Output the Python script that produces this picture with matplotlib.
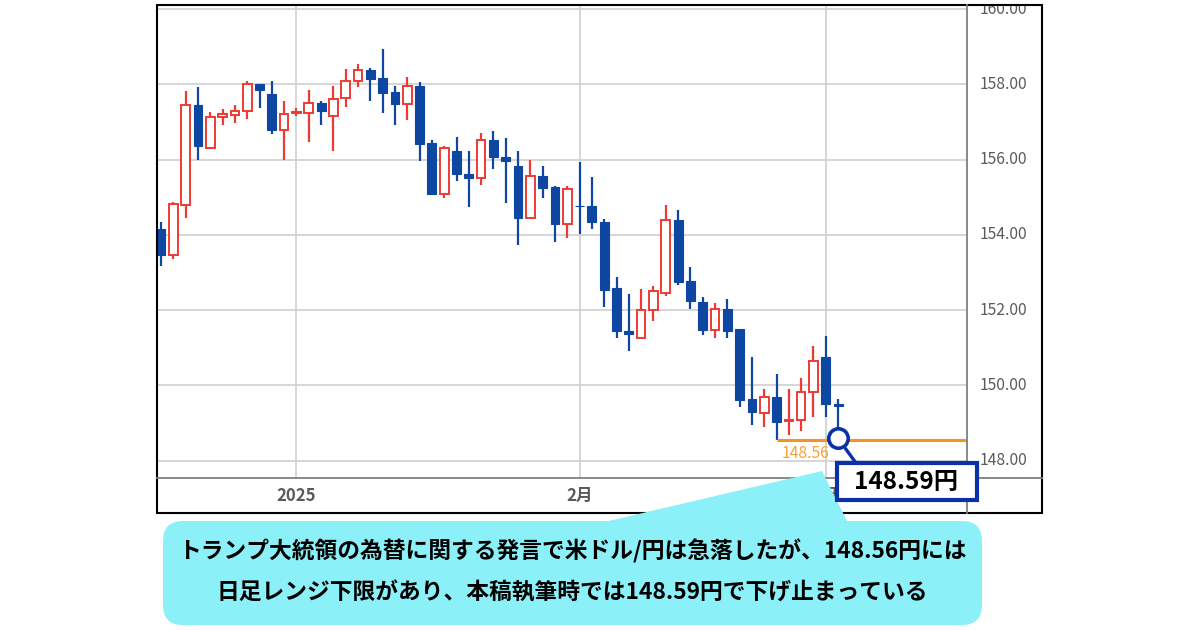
import matplotlib
matplotlib.use("Agg")
import matplotlib.pyplot as plt
from matplotlib.patches import Rectangle, FancyBboxPatch, Polygon
from matplotlib.lines import Line2D

plt.rcParams['font.family'] = ['Noto Sans CJK JP', 'DejaVu Sans']

# 米ドル/円 日足 (2024年12月中旬〜2025年3月初め)
opens = [154.15, 153.47, 154.80, 157.46, 156.31, 157.13, 157.20, 157.29, 158.00, 157.75,
         156.80, 157.24, 157.25, 157.51, 157.17, 157.64, 158.09, 158.39, 158.17, 157.79,
         157.47, 157.97, 156.45, 155.09, 156.22, 155.63, 155.51, 156.53, 156.08, 155.83,
         154.46, 155.56, 155.28, 154.29, 154.78, 154.77, 154.33, 152.58, 151.45, 151.26,
         152.00, 152.46, 154.40, 152.77, 152.22, 151.47, 152.04, 151.49, 149.63, 149.26,
         149.70, 149.05, 149.08, 149.82, 150.75, 149.51]
highs = [154.35, 154.87, 157.82, 157.93, 157.26, 157.35, 157.46, 158.08, 158.02, 158.08,
         157.55, 157.36, 157.86, 157.55, 157.97, 158.40, 158.55, 158.43, 158.93, 157.97,
         158.19, 158.06, 156.53, 156.37, 156.60, 156.22, 156.71, 156.75, 156.58, 156.24,
         156.00, 155.83, 155.29, 155.29, 155.95, 155.53, 154.43, 152.88, 152.43, 152.56,
         152.65, 154.79, 154.67, 153.15, 152.35, 152.20, 152.31, 151.50, 150.75, 149.90,
         150.31, 149.90, 150.20, 151.04, 151.31, 149.65]
lows = [153.17, 153.35, 154.46, 155.99, 156.29, 156.91, 156.98, 157.09, 157.36, 156.69,
        156.00, 157.17, 156.47, 156.91, 156.24, 157.41, 157.94, 157.57, 157.25, 156.91,
        157.06, 155.96, 155.08, 154.98, 155.42, 154.75, 155.33, 155.75, 154.84, 153.73,
        154.45, 154.99, 153.80, 153.91, 154.02, 154.17, 152.08, 151.25, 150.91, 151.25,
        151.71, 152.37, 152.67, 152.02, 151.33, 151.25, 151.26, 149.43, 148.95, 148.89,
        148.56, 148.69, 148.78, 149.15, 149.15, 148.59]
closes = [153.47, 154.82, 157.44, 156.36, 157.13, 157.22, 157.30, 158.00, 157.86, 156.79,
          157.22, 157.27, 157.51, 157.28, 157.62, 158.09, 158.37, 158.15, 157.76, 157.47,
          157.97, 156.42, 155.09, 156.31, 155.62, 155.52, 156.51, 156.07, 155.96, 154.46,
          155.56, 155.25, 154.29, 155.23, 154.76, 154.33, 152.54, 151.45, 151.37, 152.00,
          152.51, 154.40, 152.75, 152.24, 151.47, 152.04, 151.44, 149.61, 149.29, 149.70,
          149.04, 149.09, 149.83, 150.65, 149.51, 149.45]

month_pos = [11, 34, 54]
month_labels = ['2025', '2月', '3月']
y_ticks = [148, 150, 152, 154, 156, 158, 160]

range_low = 148.56
range_low_start = 50
now_idx = 55
now_price = 148.59

note_line1 = 'トランプ大統領の為替に関する発言で米ドル/円は急落したが、148.56円には'
note_line2 = '日足レンジ下限があり、本稿執筆時では148.59円で下げ止まっている'

RED = '#ee3a34'
BLUE = '#0d47a1'
NAVY = '#0a31a6'
GRAY = '#5a5a5a'

fig = plt.figure(figsize=(12, 6.3), dpi=100)
inch = fig.dpi_scale_trans


def p(x, y):
    # pixel (from top-left) -> inches
    return (x / 100, (630 - y) / 100)


ax = fig.add_axes([157 / 1200, 1 - 478 / 630, 810 / 1200, 473 / 630])
axy = fig.add_axes([967 / 1200, 1 - 478 / 630, 75 / 1200, 473 / 630], sharey=ax)

x_right = 65.47
ax.set_xlim(-0.33, x_right)
ax.set_ylim(147.54, 160.11)

# ローソク足
xs = list(range(len(opens)))
for i in xs:
    o, h, l, c = opens[i], highs[i], lows[i], closes[i]
    col = RED if c >= o else BLUE
    ax.vlines(i, l, h, color=col, lw=1.6, zorder=2)
    if c >= o:
        ax.bar(i, max(c - o, 0.02), bottom=o, width=0.7, facecolor='white',
               edgecolor=RED, linewidth=1.4, zorder=3)
    else:
        ax.bar(i, max(o - c, 0.02), bottom=c, width=0.72, facecolor=BLUE,
               edgecolor=BLUE, linewidth=0.8, zorder=3)

# レンジ下限
ax.hlines(range_low, range_low_start, x_right, color='#f7931e', lw=2.2, zorder=4)
ax.annotate(f'{range_low:.2f}', xy=(range_low_start + 0.45, range_low), xytext=(0, -10),
            textcoords='offset points', ha='left', va='center', color='#f5a338',
            fontsize=11.3)

# グリッド
ax.set_xticks(month_pos)
ax.set_xticklabels(month_labels, color=GRAY, fontsize=12, fontweight='bold')
ax.set_yticks(y_ticks)
ax.tick_params(axis='x', length=0, pad=6.5)
ax.tick_params(axis='y', length=0, labelleft=False)
ax.grid(True, color='#d0d0d0', lw=1.2, zorder=0)
for s in ax.spines.values():
    s.set_visible(False)

axy.axis('off')
for v in y_ticks:
    axy.text(0.17, v, f'{v:.2f}', transform=axy.get_yaxis_transform(), ha='left',
             va='center', color=GRAY, fontsize=11.3, clip_on=True)

# 枠線
fig.add_artist(Rectangle(p(157, 513), 8.85, 5.08, transform=inch, fill=False,
                         ec='black', lw=1.5, zorder=2))
fig.add_artist(Line2D([p(157, 0)[0], p(1042, 0)[0]], [p(0, 478)[1]] * 2,
                      transform=inch, color='#7f7f7f', lw=1.3, zorder=2))
fig.add_artist(Line2D([p(967, 0)[0]] * 2, [p(0, 5)[1], p(0, 513)[1]],
                      transform=inch, color='#7f7f7f', lw=1.3, zorder=2))

# 現在値の丸と吹き出し
ax.plot(now_idx, now_price, marker='o', ms=14, mfc='white', mec=NAVY, mew=2.6, zorder=6)
ax.annotate('', xy=(now_idx, now_price), xytext=p(856, 463), textcoords=inch,
            arrowprops=dict(arrowstyle='-', color=NAVY, lw=2.4, shrinkA=0, shrinkB=9))
fig.add_artist(Rectangle(p(837, 500), 1.40, 0.37, transform=inch, fc='white',
                         ec=NAVY, lw=3, zorder=4))
fig.text(*p(906, 482), f'{now_price:.2f}円', transform=inch, ha='center', va='center',
         fontsize=17.5, fontweight='bold', color='black', zorder=5)

# 解説の吹き出し
CYAN = '#8cf0f9'
fig.add_artist(FancyBboxPatch(p(163, 625), 8.19, 1.04, transform=inch,
                              boxstyle='round,pad=0,rounding_size=0.2',
                              fc=CYAN, ec='none', zorder=3))
fig.add_artist(Polygon([p(600, 523), p(822, 471), p(848, 523)], closed=True,
                       transform=inch, fc=CYAN, ec='none', zorder=3))
fig.text(*p(572, 551), note_line1, transform=inch, ha='center', va='center',
         fontsize=16.4, fontweight='bold', color='black', zorder=5)
fig.text(*p(572, 593), note_line2, transform=inch, ha='center', va='center',
         fontsize=16.4, fontweight='bold', color='black', zorder=5)

fig.savefig('out.png', dpi=100)
